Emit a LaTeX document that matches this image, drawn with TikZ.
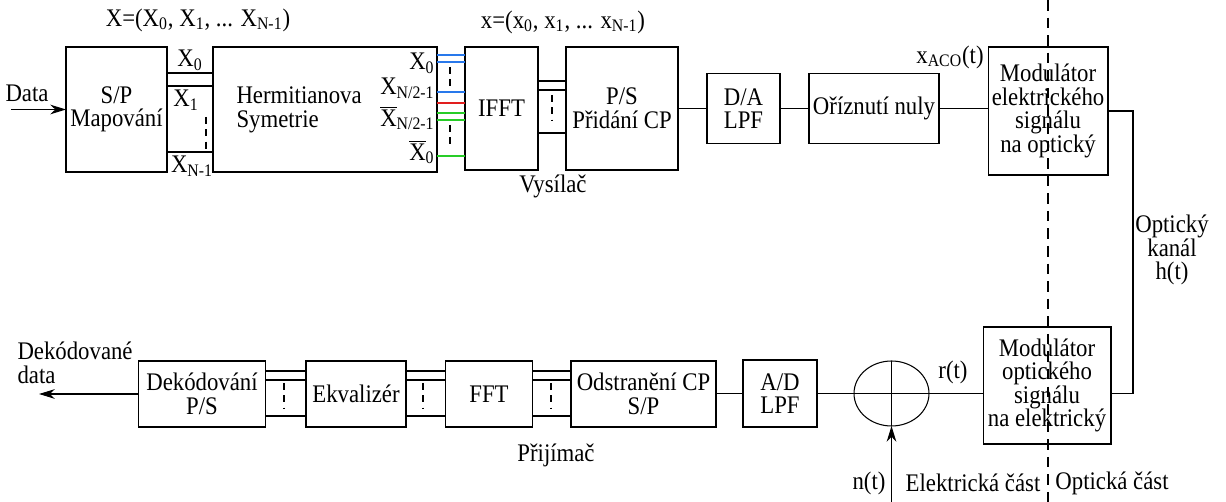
\documentclass[tikz,border=0pt]{standalone}
\usepackage{fontspec}
\setmainfont{Liberation Serif}[FakeStretch=0.9]
\usepackage{tikz}
\usetikzlibrary{arrows.meta, shapes.geometric}
\definecolor{bus_blue}{RGB}{40, 120, 235}
\definecolor{bus_red}{RGB}{225, 30, 30}
\definecolor{bus_green}{RGB}{40, 205, 40}
\newcommand{\Xbar}[1]{$\overline{\mbox{X}}$\textsubscript{#1}}

\begin{document}
\begin{tikzpicture}[x=0.02cm, y=-0.02cm, >={Stealth[length=9pt, width=5.5pt]},
      font=\fontsize{14.4}{13.4}\selectfont, line width=0.6pt,
      blk/.style={draw, align=center, inner sep=0pt, outer sep=0pt},
      lbl/.style={align=center, inner sep=0pt},
      gap/.style={dash pattern=on 4pt off 3pt},
      cut/.style={dash pattern=on 6pt off 4pt}]
    \useasboundingbox (0,0) rectangle (1226,502);
    % vysilac
    \node[blk, minimum width=2.02cm, minimum height=2.5cm] (sp) at (116.5,109.5) {S/P\\Mapování};
    \node[blk, minimum width=4.48cm, minimum height=2.5cm] (herm) at (325,109.5) {};
    \node[lbl, anchor=west, align=left] (hermtxt) at (236,110) {Hermitianova\\Symetrie};
    \node[blk, minimum width=1.46cm, minimum height=2.46cm] (ifft) at (501.5,108.5) {IFFT};
    \node[blk, minimum width=2.24cm, minimum height=2.46cm] (ps) at (622,108.5) {P/S\\Přidání CP};
    \node[blk, minimum width=1.46cm, minimum height=1.4cm] (da) at (743.5,108.5) {D/A\\LPF};
    \node[blk, minimum width=2.6cm, minimum height=1.4cm] (orez) at (874,108.5) {Oříznutí nuly};
    \node[blk, minimum width=2.4cm, minimum height=2.56cm] (modE) at (1048,111)
      {Modulátor\\elektrického\\signálu\\na optický};
    % prijimac
    \node[blk, minimum width=2.56cm, minimum height=2.34cm] (modO) at (1047,385.5)
      {Modulátor\\optického\\signálu\\na elektrický};
    \node[draw, ellipse, inner sep=0pt, outer sep=0pt, minimum width=1.5cm, minimum height=1.3cm] (sum) at (891.5,393.5) {};
    \node[blk, minimum width=1.48cm, minimum height=1.34cm] (ad) at (780,393.5) {A/D\\LPF};
    \node[blk, minimum width=2.9cm, minimum height=1.32cm] (odst) at (643.5,394) {Odstranění CP\\S/P};
    \node[blk, minimum width=1.74cm, minimum height=1.32cm] (fft) at (489,394) {FFT};
    \node[blk, minimum width=2.0cm, minimum height=1.32cm] (ekv) at (356,394) {Ekvalizér};
    \node[blk, minimum width=2.53cm, minimum height=1.32cm] (dek) at (202,394) {Dekódování\\P/S};
    % popisky
    \node[lbl] (Xvec) at (198,20) {X=(X\textsubscript{0}, X\textsubscript{1}, ... X\textsubscript{N-1})};
    \node[lbl] (xvec) at (563,22) {x=(x\textsubscript{0}, x\textsubscript{1}, ... x\textsubscript{N-1})};
    \node[lbl] (lX0) at (190,60) {X\textsubscript{0}};
    \node[lbl] (lX1) at (186,100) {X\textsubscript{1}};
    \node[lbl] (lXN) at (192,166) {X\textsubscript{N-1}};
    \node[lbl, anchor=east] (hX0) at (435,63) {X\textsubscript{0}};
    \node[lbl, anchor=east] (hXN) at (435,88) {X\textsubscript{N/2-1}};
    \node[lbl, anchor=east] (hXbN) at (435,118) {\Xbar{N/2-1}};
    \node[lbl, anchor=east] (hXb0) at (435,152) {\Xbar{0}};
    \node[lbl] (data) at (27,93) {Data};
    \node[lbl] (vys) at (553,186) {Vysílač};
    \node[lbl] (xaco) at (950,57) {x\textsubscript{ACO}(t)};
    \node[lbl] (kanal) at (1172,250) {Optický\\kanál\\h(t)};
    \node[lbl, anchor=west, align=left] (dout) at (17,363) {Dekódované\\data};
    \node[lbl] (prij) at (556,455) {Přijímač};
    \node[lbl] (rt) at (953,372) {r(t)};
    \node[lbl] (nt) at (869,483) {n(t)};
    \node[lbl] (elek) at (973,483) {Elektrická část};
    \node[lbl] (opt) at (1112,483) {Optická část};
    % spoje
    \coordinate (din) at (11,109.5);
    \coordinate (dend) at (39,394);
    \coordinate (nin) at (891.5,502);
    \coordinate (ch) at (1133,250);
    \draw[->] (din) -- (sp.west);
    \foreach \yy in {73,86,152} \draw (sp.east |- 0,\yy) -- (herm.west |- 0,\yy);
    \draw[gap] (206,117) -- (206,150);
    \foreach \yy/\cc in {55/bus_blue, 62/bus_blue, 92/bus_blue, 103/bus_red, 113/bus_green, 120/bus_green, 156/bus_green}
      \draw[\cc] (herm.east |- 0,\yy) -- (ifft.west |- 0,\yy);
    \draw[gap] (450,67) -- (450,90);
    \draw[gap] (450,125) -- (450,148);
    \foreach \yy in {81,90,133} \draw (ifft.east |- 0,\yy) -- (ps.west |- 0,\yy);
    \draw[gap] (552,95) -- (552,120);
    \draw (ps.east) -- (da.west);
    \draw (da.east) -- (orez.west);
    \draw (orez.east) -- (orez.east -| modE.west);
    \draw (modE.east) -| (ch) |- (sum -| modO.east);
    \draw (sum -| modO.west) -- (sum.east);
    \draw (sum.west) -- (sum.east);
    \draw (sum.north) -- (sum.south);
    \draw[->] (nin) -- (sum.south);
    \draw (sum.west) -- (sum.west -| ad.east);
    \draw (ad.west) -- (ad.west -| odst.east);
    \foreach \yy in {371,380,416} {
      \draw (dek.east |- 0,\yy) -- (ekv.west |- 0,\yy);
      \draw (ekv.east |- 0,\yy) -- (fft.west |- 0,\yy);
      \draw (fft.east |- 0,\yy) -- (odst.west |- 0,\yy);
    }
    \foreach \xx in {284,423,551} \draw[gap] (\xx,383) -- (\xx,408);
    \draw[->] (dek.west) -- (dend);
    % hranice elektricka / opticka cast
    \draw[cut] (1048,0) -- (1048,502);
  \end{tikzpicture}
\end{document}
